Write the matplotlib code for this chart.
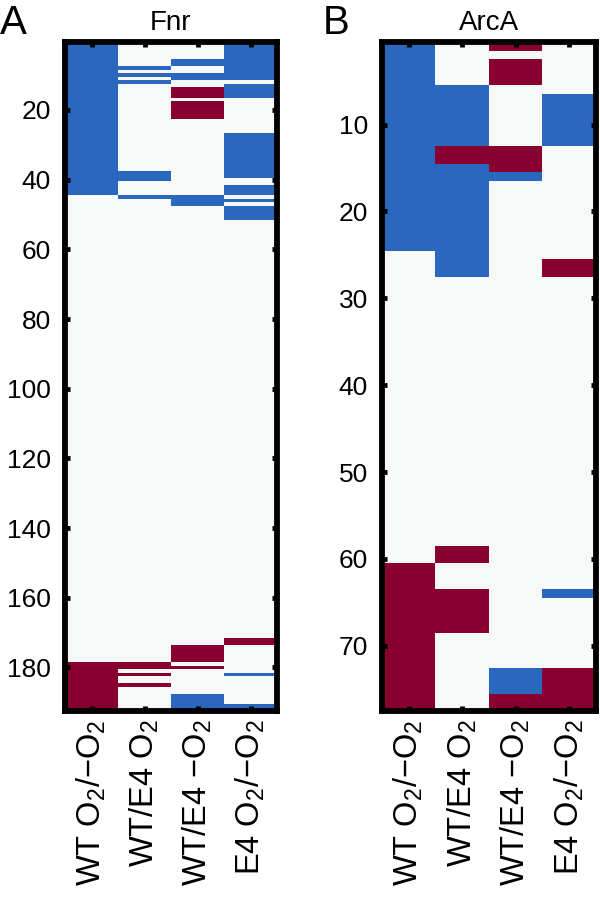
import numpy as np
import matplotlib
matplotlib.use("Agg")
import matplotlib.pyplot as plt
from matplotlib.colors import ListedColormap

plt.rcParams['font.family'] = ['Liberation Sans', 'DejaVu Sans']
plt.rcParams['mathtext.fontset'] = 'custom'
plt.rcParams['mathtext.rm'] = 'Liberation Sans'
plt.rcParams['mathtext.default'] = 'regular'

# column labels (same for both panels)
conditions = ['WT O$_2$/\u2212O$_2$', 'WT/E4 O$_2$', 'WT/E4 \u2212O$_2$', 'E4 O$_2$/\u2212O$_2$']

# Fnr panel: runs of rows (first, last), one list per column
fnr_nrows = 192
fnr_blue = [
    [(1, 44)],
    [(8, 8), (10, 10), (12, 12), (38, 40), (45, 45)],
    [(6, 7), (10, 11), (45, 47), (188, 192)],
    [(1, 11), (13, 16), (27, 39), (42, 44), (46, 46), (48, 51), (182, 182), (191, 192)],
]
fnr_red = [
    [(179, 192)],
    [(179, 180), (182, 182), (185, 185)],
    [(14, 16), (18, 22), (174, 178), (180, 180)],
    [(172, 173)],
]
fnr_ticks = [20, 40, 60, 80, 100, 120, 140, 160, 180]

# ArcA panel
arca_nrows = 77
arca_blue = [
    [(1, 24)],
    [(6, 12), (15, 27)],
    [(16, 16), (73, 75)],
    [(7, 12), (64, 64)],
]
arca_red = [
    [(61, 77)],
    [(13, 14), (59, 60), (64, 68)],
    [(1, 1), (3, 5), (13, 15), (76, 77)],
    [(26, 27), (73, 77)],
]
arca_ticks = [10, 20, 30, 40, 50, 60, 70]


def build(nrows, blue, red):
    m = np.zeros((nrows, len(blue)))
    for j in range(len(blue)):
        for a, b in blue[j]:
            m[a - 1:b, j] = 1
        for a, b in red[j]:
            m[a - 1:b, j] = -1
    return m


cmap = ListedColormap(['#880030', '#f7f9f9', '#2a68c0'])

fig = plt.figure(figsize=(6, 8.99), dpi=100)
axA = fig.add_axes([65 / 600, 1 - 711 / 899, 212 / 600, 669 / 899])
axB = fig.add_axes([382 / 600, 1 - 711 / 899, 214 / 600, 669 / 899])

panels = [(axA, 'Fnr', fnr_nrows, fnr_blue, fnr_red, fnr_ticks),
          (axB, 'ArcA', arca_nrows, arca_blue, arca_red, arca_ticks)]

for ax, title, n, blue, red, ticks in panels:
    m = build(n, blue, red)
    ax.imshow(m, cmap=cmap, vmin=-1, vmax=1, aspect='auto', interpolation='nearest',
              extent=(0.5, len(conditions) + 0.5, n + 0.5, 0.5))
    ax.set_xlim(0.5, len(conditions) + 0.5)
    ax.set_ylim(n + 0.5, 0.5)
    ax.set_xticks(range(1, len(conditions) + 1))
    ax.set_xticklabels(conditions, rotation=90, fontsize=23.5)
    ax.set_yticks(ticks)
    ax.set_yticklabels([str(t) for t in ticks], fontsize=19)
    ax.tick_params(direction='in', length=3.5, width=3.5, top=True, right=True, pad=10)
    ax.tick_params(axis='x', pad=6)
    for s in ax.spines.values():
        s.set_linewidth(4.2)
    ax.set_title(title, fontsize=20, pad=9)

fig.text(0 / 600, 1 - 4 / 899, 'A', fontsize=29, ha='left', va='top')
fig.text(323 / 600, 1 - 4 / 899, 'B', fontsize=29, ha='left', va='top')

fig.savefig('out.png', dpi=100)
